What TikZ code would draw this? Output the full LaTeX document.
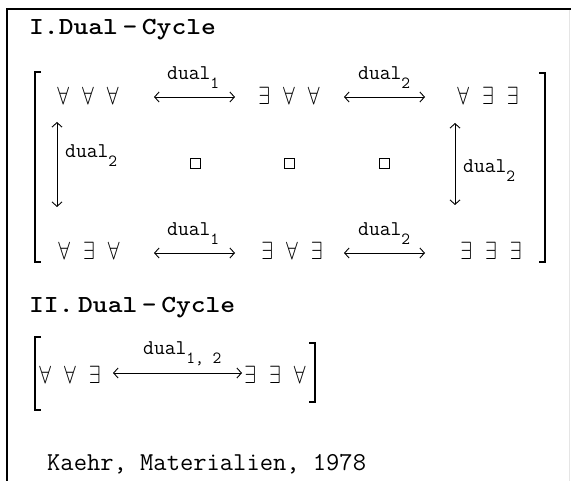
\documentclass[tikz,border=0pt]{standalone}
\usepackage{fontspec}
\usetikzlibrary{arrows.meta}
\newcommand{\qq}[1]{\scalebox{0.85}[1]{$#1$}}
\newcommand{\qs}[3]{\fontsize{24}{24}\selectfont\qq{#1}\hspace{13pt}\qq{#2}\hspace{13pt}\qq{#3}}
\newcommand{\dl}[1]{\fontsize{21}{21}\selectfont dual\raisebox{-9pt}{\fontsize{17}{17}\selectfont #1}}
\newcommand{\ttltext}[1]{\scalebox{1.15}[1]{\fontsize{24.5}{25}\selectfont\spaceskip=4pt #1}}
\tikzset{
  quant/.style={inner sep=0pt, anchor=center},
  lbl/.style={inner sep=0pt, anchor=base west, font=\ttfamily},
  ttl/.style={inner sep=0pt, anchor=base west, font=\ttfamily\bfseries},
  dbl/.style={line width=0.9pt, {Straight Barb[length=4.5pt,width=10pt]}-{Straight Barb[length=4.5pt,width=10pt]}},
  brk/.style={line width=1.4pt},
  sq/.style={draw, line width=0.9pt, minimum size=10pt, inner sep=0pt},
  frame/.style={line width=2pt}
}
\begin{document}
\begin{tikzpicture}[x=1pt,y=-1pt]
\useasboundingbox (0,0) rectangle (571,481);
% frame
\draw[frame] (7,481) -- (7,9) -- (571,9);
\draw[black!10, line width=1pt] (569,10) -- (569,481);
% titles
\node[ttl] (t1) at (29,35) {\ttltext{I.Dual - Cycle}};
\node[ttl] (t2) at (29,313) {\ttltext{II. Dual - Cycle}};
% brackets I
\draw[brk] (41,72) -- (35,72) -- (35,262) -- (41,262);
\draw[brk] (539,73) -- (545,73) -- (545,262) -- (539,262);
% row 1
\node[quant] (A) at (88,96) {\qs{\forall}{\forall}{\forall}};
\node[quant] (B) at (289,96) {\qs{\exists}{\forall}{\forall}};
\node[quant] (C) at (488,96) {\qs{\forall}{\exists}{\exists}};
% row 3
\node[quant] (D) at (89,251) {\qs{\forall}{\exists}{\forall}};
\node[quant] (E) at (292,251) {\qs{\exists}{\forall}{\exists}};
\node[quant] (F) at (491,251) {\qs{\exists}{\exists}{\exists}};
% arrows row 1
\coordinate (a1s) at (154,97); \coordinate (a1e) at (235,97);
\coordinate (a2s) at (344,97); \coordinate (a2e) at (425,97);
\draw[dbl] (a1s) -- (a1e);
\draw[dbl] (a2s) -- (a2e);
\node[lbl] (l1) at (167,80) {\dl{1}};
\node[lbl] (l2) at (358,80) {\dl{2}};
% arrows row 3
\coordinate (a3s) at (154,253); \coordinate (a3e) at (235,253);
\coordinate (a4s) at (344,253); \coordinate (a4e) at (425,253);
\draw[dbl] (a3s) -- (a3e);
\draw[dbl] (a4s) -- (a4e);
\node[lbl] (l3) at (167,236) {\dl{1}};
\node[lbl] (l4) at (358,236) {\dl{2}};
% vertical arrows
\coordinate (v1t) at (57,122); \coordinate (v1b) at (57,207);
\coordinate (v2t) at (455,123); \coordinate (v2b) at (455,205);
\draw[dbl] (v1t) -- (v1b);
\draw[dbl] (v2t) -- (v2b);
\node[lbl] (l5) at (65,158) {\dl{2}};
\node[lbl] (l6) at (463,173) {\dl{2}};
% squares
\node[sq] (s1) at (195,163) {};
\node[sq] (s2) at (289,163) {};
\node[sq] (s3) at (384,163) {};
% section II
\draw[brk] (41,337) -- (35,337) -- (35,410) -- (41,410);
\draw[brk] (309,343) -- (315,343) -- (315,402) -- (309,402);
\node[quant] (G) at (70,375) {\qs{\forall}{\forall}{\exists}};
\node[quant] (H) at (275,375) {\qs{\exists}{\exists}{\forall}};
\coordinate (b1s) at (113,373); \coordinate (b1e) at (242,373);
\draw[dbl] (b1s) -- (b1e);
\node[lbl] (l7) at (143,355) {\dl{1, 2}};
% footer
\node[inner sep=0pt, anchor=base west, font=\ttfamily\fontsize{25.8}{26}\selectfont] (k) at (47,471) {Kaehr, Materialien, 1978};
\end{tikzpicture}
\end{document}
